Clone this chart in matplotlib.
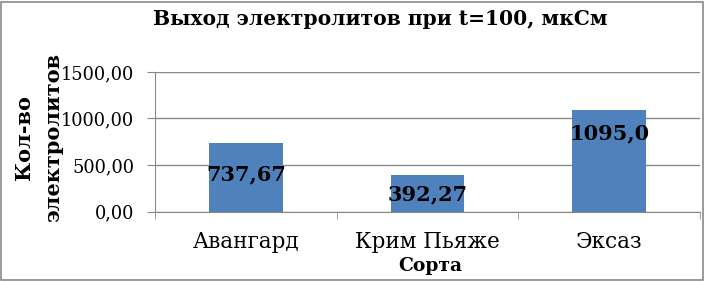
import matplotlib
matplotlib.use('Agg')
import matplotlib.pyplot as plt
from matplotlib.patches import Rectangle

# ── Data ─────────────────────────────────────────────────────
varieties = ['Авангард', 'Крим Пьяже', 'Эксаз']
values = [737.67, 392.27, 1095.0]
value_labels = ['737,67', '392,27', '1095,0']
label_heights = [400, 185, 840]          # where Excel put the data labels
y_ticks = [0, 500, 1000, 1500]
y_tick_labels = ['0,00', '500,00', '1000,00', '1500,00']

BAR = '#4F81BD'
GRID = '#8A8A8A'
SERIF = ['DejaVu Serif']

fig = plt.figure(figsize=(7.05, 2.81), dpi=100)
ax = fig.add_axes([0.22, 0.247, 0.773, 0.497])

x = list(range(len(varieties)))
ax.bar(x, values, width=0.405, color=BAR, zorder=3)

for xi, txt, h in zip(x, value_labels, label_heights):
    ax.text(xi, h, txt, ha='center', va='center', fontsize=15,
            fontweight='bold', family=SERIF, color='black', zorder=4)

ax.set_xlim(-0.5, 2.5)
ax.set_ylim(0, 1500)
ax.set_yticks(y_ticks)
ax.set_yticklabels(y_tick_labels, family=SERIF, fontsize=12.8)
ax.yaxis.grid(True, color=GRID, linewidth=1, zorder=0)

# category labels between boundary ticks
ax.set_xticks(x)
ax.set_xticklabels(varieties, family=SERIF, fontsize=15.5)
ax.tick_params(axis='x', which='major', length=0, pad=14)
ax.set_xticks([-0.5, 0.5, 1.5, 2.5], minor=True)
ax.tick_params(axis='x', which='minor', length=5, color=GRID, direction='out')
ax.tick_params(axis='y', length=6, color=GRID, pad=9)

for s in ['top', 'right']:
    ax.spines[s].set_visible(False)
for s in ['left', 'bottom']:
    ax.spines[s].set_color(GRID)

ax.set_xlabel('Сорта', family=SERIF, fontsize=13.5, fontweight='bold', va='center')
ax.xaxis.set_label_coords(0.505, -0.39)
fig.text(0.055, 0.51, 'Кол-во\nэлектролитов', rotation=90, ha='center',
         va='center', family=SERIF, fontsize=15, fontweight='bold',
         linespacing=1.55)

fig.text(0.54, 0.934, 'Выход электролитов при t=100, мкСм', ha='center',
         va='center', family=SERIF, fontsize=14.6, fontweight='bold')

fig.patches.append(Rectangle((0.002, 0.004), 0.995, 0.99, transform=fig.transFigure,
                             fill=False, edgecolor=GRID, linewidth=1.2))

fig.savefig('out.png', dpi=100)
